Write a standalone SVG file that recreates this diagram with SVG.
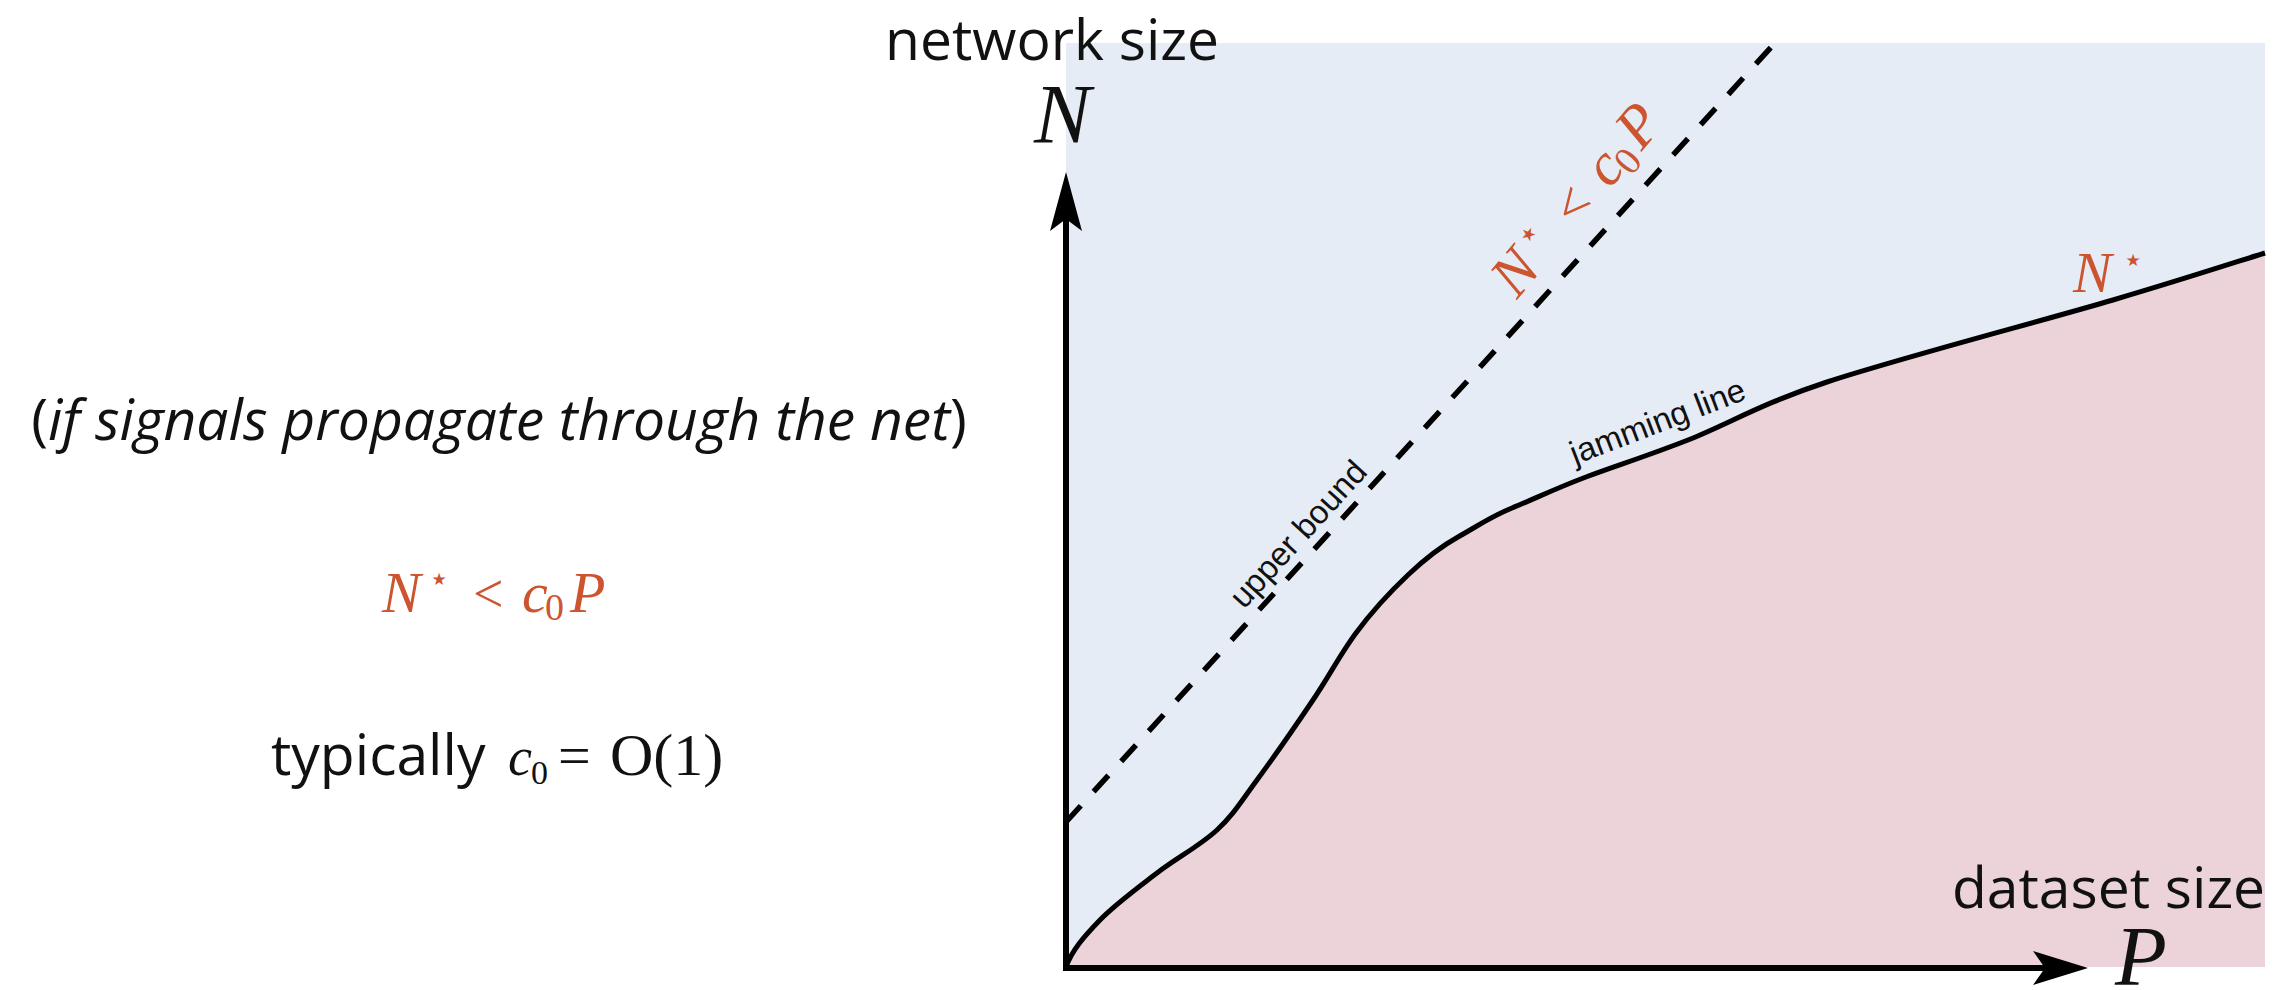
<svg xmlns="http://www.w3.org/2000/svg" width="2278" height="990" viewBox="0 0 2278 990">
<defs>
<style>
.sans{font-family:"Open Sans","DejaVu Sans",sans-serif;fill:#111;font-size:57px}
.lbl{font-family:"Liberation Sans",Arial,sans-serif;fill:#111;font-size:33px}
.mi{font-family:"Liberation Serif","Times New Roman",serif;font-style:italic}
.up{font-family:"Liberation Serif","Times New Roman",serif;font-style:normal}
.star{font-family:"DejaVu Sans",sans-serif;font-style:normal}
.or{fill:#cc5530}
.blk{fill:#111}
.axis{stroke:#000;stroke-width:6;fill:none}
.curve{stroke:#000;stroke-width:5;fill:none;stroke-linejoin:round}
.dash{stroke:#000;stroke-width:5.5;fill:none;stroke-dasharray:22 19}
</style>
</defs>
<rect width="2278" height="990" fill="#ffffff"/>
<g id="regions">
<rect id="region-blue" x="1066" y="43" width="1199" height="924" fill="#e5ecf6"/>
<path id="region-pink" fill="#ebd3d9" d="M1066,967 C1072,950 1084.8,935.7 1100,920 C1115.2,904.3 1137.5,888 1157,873 C1176.5,858 1200.3,845.5 1217,830 C1233.7,814.5 1241,801.7 1257,780 C1273,758.3 1296.5,724.5 1313,700 C1329.5,675.5 1340.3,654.2 1356,633 C1371.7,611.8 1392,590 1409,574 C1426,558 1440,547 1458,537 C1476,527 1490,517 1512,508 C1534,499 1556.2,488.2 1586,477 C1615.8,465.8 1647.8,455.8 1688,440 C1728.2,424.2 1760,404 1827,382 C1897.8,358.7 2040,321.5 2113,300 C2186,278.5 2239.7,260.8 2265,253 L2265,967 Z"/>
</g>
<g id="connectors">
<path id="upper-bound-line" class="dash" d="M1066,822 L1775,43"/>
<path id="jamming-line" class="curve" d="M1066,967 C1072,950 1084.8,935.7 1100,920 C1115.2,904.3 1137.5,888 1157,873 C1176.5,858 1200.3,845.5 1217,830 C1233.7,814.5 1241,801.7 1257,780 C1273,758.3 1296.5,724.5 1313,700 C1329.5,675.5 1340.3,654.2 1356,633 C1371.7,611.8 1392,590 1409,574 C1426,558 1440,547 1458,537 C1476,527 1490,517 1512,508 C1534,499 1556.2,488.2 1586,477 C1615.8,465.8 1647.8,455.8 1688,440 C1728.2,424.2 1760,404 1827,382 C1897.8,358.7 2040,321.5 2113,300 C2186,278.5 2239.7,260.8 2265,253"/>
<line id="y-axis" class="axis" x1="1066" y1="971" x2="1066" y2="215"/>
<line id="x-axis" class="axis" x1="1063" y1="968" x2="2050" y2="968"/>
<path id="y-arrowhead" fill="#000" d="M1066,172 L1082,231 L1066,219 L1050,231 Z"/>
<path id="x-arrowhead" fill="#000" d="M2088,968 L2033,985 L2045,968 L2033,951 Z"/>
</g>
<g id="axis-labels">
<text id="lbl-network-size" class="sans" x="885" y="60" font-size="56">network size</text>
<text id="lbl-N" class="mi blk" x="1034" y="143" font-size="85">N</text>
<text id="lbl-dataset-size" class="sans" x="1952" y="908" font-size="56">dataset size</text>
<text id="lbl-P" class="mi blk" x="2115" y="985" font-size="85">P</text>
</g>
<g id="curve-labels">
<text id="lbl-upper-bound" class="lbl" transform="translate(1244,610) rotate(-47.7)">upper bound</text>
<text id="lbl-jamming-line" class="lbl" transform="translate(1575,465) rotate(-21)">jamming line</text>
<g id="lbl-nstar" class="or">
<text class="mi" x="2073" y="292" font-size="58">N</text>
<text class="star" x="2133" y="266" font-size="17" text-anchor="middle">★</text>
</g>
<g id="lbl-bound-ineq" class="or" transform="translate(1517,300) rotate(-50) scale(1.03)">
<text class="mi" x="0" y="0" font-size="58">N</text>
<text class="star" x="56" y="-27" font-size="17" text-anchor="middle">★</text>
<text class="up" x="90" y="0" font-size="54">&lt;</text>
<text class="mi" x="140" y="0" font-size="58">c</text>
<text class="up" x="163" y="8" font-size="38">0</text>
<text class="mi" x="188" y="0" font-size="58">P</text>
</g>
</g>
<g id="side-notes">
<text id="note-condition" class="sans" x="499" y="440" text-anchor="middle">(<tspan font-style="italic">if signals propagate through the net</tspan>)</text>
<g id="note-ineq" class="or">
<text class="mi" x="382" y="612" font-size="58">N</text>
<text class="star" x="439" y="585" font-size="17" text-anchor="middle">★</text>
<text class="up" x="473" y="612" font-size="54">&lt;</text>
<text class="mi" x="522" y="612" font-size="58">c</text>
<text class="up" x="545" y="620" font-size="38">0</text>
<text class="mi" x="570" y="612" font-size="58">P</text>
</g>
<g id="note-typically" class="blk">
<text class="sans" x="271" y="775" font-size="56">typically</text>
<text class="mi" x="508" y="775" font-size="54">c</text>
<text class="up" x="531" y="784" font-size="34">0</text>
<text class="up" x="558" y="775" font-size="58">=</text>
<text class="up" x="610" y="775" font-size="60">O(1)</text>
</g>
</g>
</svg>
